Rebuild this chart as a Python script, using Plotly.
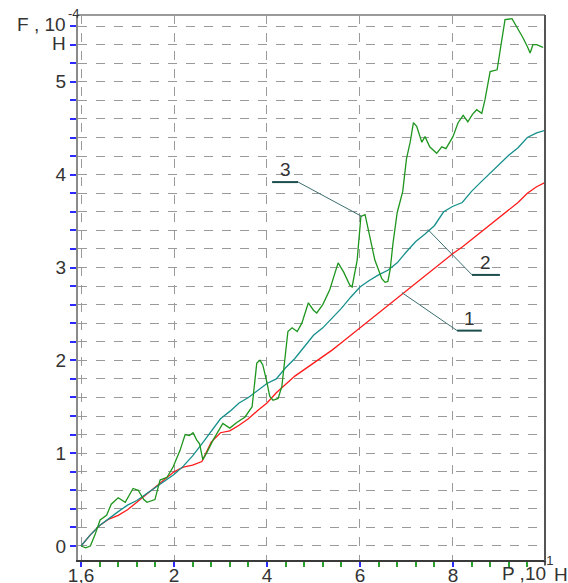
import plotly.graph_objects as go

# ---- data (x in axis units, y in 10^4 H) ----
x_step = [round(i * 0.2, 1) for i in range(51)]

red_y = [0, 0.12, 0.22, 0.29, 0.33, 0.39, 0.47, 0.55, 0.63, 0.71,
         0.80, 0.85, 0.87, 0.91, 1.12, 1.22, 1.24, 1.30, 1.37, 1.46,
         1.54, 1.65, 1.74, 1.83, 1.90, 1.97, 2.04, 2.11, 2.19, 2.27,
         2.35, 2.43, 2.52, 2.60, 2.68, 2.76, 2.84, 2.92, 2.99, 3.07,
         3.15, 3.22, 3.30, 3.38, 3.47, 3.55, 3.63, 3.70, 3.80, 3.87, 3.92]

teal_y = [0, 0.12, 0.22, 0.30, 0.37, 0.44, 0.49, 0.56, 0.63, 0.70,
          0.77, 0.86, 0.97, 1.10, 1.24, 1.37, 1.45, 1.54, 1.60, 1.68,
          1.75, 1.80, 1.92, 2.02, 2.14, 2.27, 2.35, 2.45, 2.56, 2.68,
          2.79, 2.86, 2.92, 2.97, 3.05, 3.17, 3.28, 3.36, 3.45, 3.60,
          3.66, 3.70, 3.82, 3.92, 4.02, 4.12, 4.21, 4.29, 4.40, 4.45, 4.48]

green_x = [0, 0.1, 0.2, 0.3, 0.41, 0.55, 0.65, 0.8, 0.95, 1.12, 1.23, 1.35, 1.42,
           1.59, 1.70, 1.85, 1.98, 2.13, 2.24, 2.33, 2.41, 2.49, 2.55, 2.62, 2.70,
           2.84, 3.05, 3.2, 3.35, 3.53, 3.68, 3.74, 3.78, 3.85, 3.91, 4.0, 4.06,
           4.13, 4.24, 4.32, 4.39, 4.45, 4.54, 4.65, 4.75, 4.89, 5.0, 5.07, 5.2,
           5.35, 5.53, 5.65, 5.78, 5.83, 5.94, 6.02, 6.11, 6.22, 6.32, 6.47, 6.54,
           6.6, 6.65, 6.71, 6.8, 6.92, 7.0, 7.08, 7.15, 7.22, 7.33, 7.40, 7.5, 7.65,
           7.76, 7.85, 8.0, 8.11, 8.22, 8.32, 8.42, 8.51, 8.62, 8.69, 8.8, 8.95,
           9.01, 9.12, 9.27, 9.38, 9.5, 9.6, 9.66, 9.72, 9.8, 9.9, 9.94]
green_y = [0, -0.02, 0.0, 0.12, 0.28, 0.33, 0.45, 0.52, 0.47, 0.62, 0.60, 0.50, 0.47,
           0.50, 0.71, 0.74, 0.85, 1.03, 1.20, 1.19, 1.22, 1.14, 1.10, 0.93, 1.00,
           1.14, 1.32, 1.27, 1.33, 1.39, 1.50, 1.79, 1.97, 2.00, 1.95, 1.76, 1.61,
           1.57, 1.59, 1.72, 2.04, 2.31, 2.35, 2.31, 2.40, 2.62, 2.54, 2.51, 2.60,
           2.76, 3.05, 2.95, 2.81, 2.79, 3.08, 3.55, 3.57, 3.33, 3.08, 2.88, 2.84,
           2.85, 2.98, 3.26, 3.59, 3.82, 4.17, 4.35, 4.56, 4.52, 4.35, 4.41, 4.30, 4.23,
           4.30, 4.28, 4.41, 4.56, 4.64, 4.57, 4.65, 4.70, 4.66, 4.81, 5.11, 5.13,
           5.34, 5.67, 5.68, 5.59, 5.48, 5.38, 5.31, 5.40, 5.40, 5.38, 5.37]

x_tick_vals = [0, 2, 4, 6, 8]
x_tick_text = ["1,6", "2", "4", "6", "8"]
y_tick_vals = [0, 1, 2, 3, 4, 5]

# callout labels: text, underline x0, x1, y, target x, target y
callouts = [
    ("3", 4.11, 4.67, 3.92, 6.04, 3.55),
    ("2", 8.41, 9.01, 2.92, 7.46, 3.41),
    ("1", 8.09, 8.62, 2.32, 6.90, 2.73),
]

FONT = "Liberation Sans, Arial, sans-serif"
TXT = "#333333"
BLUE = "#2b2bff"

fig = go.Figure()
fig.add_trace(go.Scatter(x=x_step, y=red_y, mode="lines",
                         line=dict(color="#ff1a1a", width=1.3), showlegend=False))
fig.add_trace(go.Scatter(x=x_step, y=teal_y, mode="lines",
                         line=dict(color="#15908c", width=1.3), showlegend=False))
fig.add_trace(go.Scatter(x=green_x, y=green_y, mode="lines",
                         line=dict(color="#1e961e", width=1.3), showlegend=False))

shapes = []
annotations = []
for label, ux0, ux1, uy, tx, ty in callouts:
    shapes.append(dict(type="line", xref="x", yref="y", x0=ux0, x1=ux1, y0=uy, y1=uy,
                       line=dict(color="#1b4d4d", width=2)))
    lx = ux1 if tx > ux1 else ux0
    shapes.append(dict(type="line", xref="x", yref="y", x0=lx, x1=tx, y0=uy, y1=ty,
                       line=dict(color="#3d6e6e", width=1)))
    annotations.append(dict(x=(ux0 + ux1) / 2, y=uy, xref="x", yref="y", text=label,
                            showarrow=False, yanchor="bottom", yshift=0,
                            font=dict(family=FONT, size=19, color=TXT)))

# frame: top and right borders
shapes.append(dict(type="line", xref="paper", yref="paper", x0=0, x1=1, y0=1, y1=1,
                   line=dict(color="#9a9a9a", width=2)))
shapes.append(dict(type="line", xref="paper", yref="paper", x0=1, x1=1, y0=-0.01, y1=1,
                   line=dict(color="#555555", width=2)))

# axis titles
annotations += [
    dict(xref="paper", yref="paper", x=-0.135, y=0.982, xanchor="left", yanchor="middle",
         text="F , 10", showarrow=False, font=dict(family=FONT, size=19, color=TXT)),
    dict(xref="paper", yref="paper", x=-0.026, y=1.003, xanchor="left", yanchor="middle",
         text="-4", showarrow=False, font=dict(family=FONT, size=13, color=TXT)),
    dict(xref="paper", yref="paper", x=-0.06, y=0.947, xanchor="left", yanchor="middle",
         text="H", showarrow=False, font=dict(family=FONT, size=19, color=TXT)),
    dict(xref="paper", yref="paper", x=0.9036, y=-0.024, xanchor="left", yanchor="middle",
         text="P ,10", showarrow=False, font=dict(family=FONT, size=19, color=TXT)),
    dict(xref="paper", yref="paper", x=0.989, y=-0.0015, xanchor="left", yanchor="middle",
         text="-1", showarrow=False, font=dict(family=FONT, size=13, color=TXT)),
    dict(xref="paper", yref="paper", x=1.015, y=-0.026, xanchor="left", yanchor="middle",
         text="H", showarrow=False, font=dict(family=FONT, size=19, color=TXT)),
]

fig.update_layout(
    width=568, height=583, autosize=False,
    margin=dict(l=78, r=23, t=15, b=23, pad=0),
    paper_bgcolor="white", plot_bgcolor="white",
    font=dict(family=FONT, size=19, color=TXT),
    shapes=shapes, annotations=annotations,
    xaxis=dict(range=[-0.065, 9.98], tickmode="array", tickvals=x_tick_vals,
               ticktext=x_tick_text, ticks="outside", ticklen=5, tickcolor=BLUE,
               tickwidth=1.5, showline=True, linecolor="#3a3a3a", linewidth=2,
               showgrid=True, gridcolor="#9a9a9a", griddash="dash", gridwidth=1,
               zeroline=False, automargin=False, ticklabelstandoff=-8,
               tickfont=dict(size=19, color=TXT),
               minor=dict(dtick=0.4, tick0=0, ticks="outside", ticklen=5,
                          tickcolor="#2ca02c", tickwidth=1.5, showgrid=False)),
    yaxis=dict(range=[-0.151, 5.72], tickmode="array", tickvals=y_tick_vals,
               ticks="outside", ticklen=6, tickcolor=BLUE, tickwidth=1.5,
               showline=True, linecolor="#8a8a8a", linewidth=2,
               showgrid=True, gridcolor="#9a9a9a", griddash="dash", gridwidth=1,
               zeroline=False, automargin=False, tickfont=dict(size=19, color=TXT),
               minor=dict(dtick=0.2, tick0=0, ticks="outside", ticklen=6,
                          tickcolor=BLUE, tickwidth=1.5, showgrid=True,
                          gridcolor="#9a9a9a", griddash="dash", gridwidth=1)),
)

fig.write_html("out.html", config={"displayModeBar": False},
               post_script="document.body.style.margin='0';document.body.style.overflow='hidden';")
